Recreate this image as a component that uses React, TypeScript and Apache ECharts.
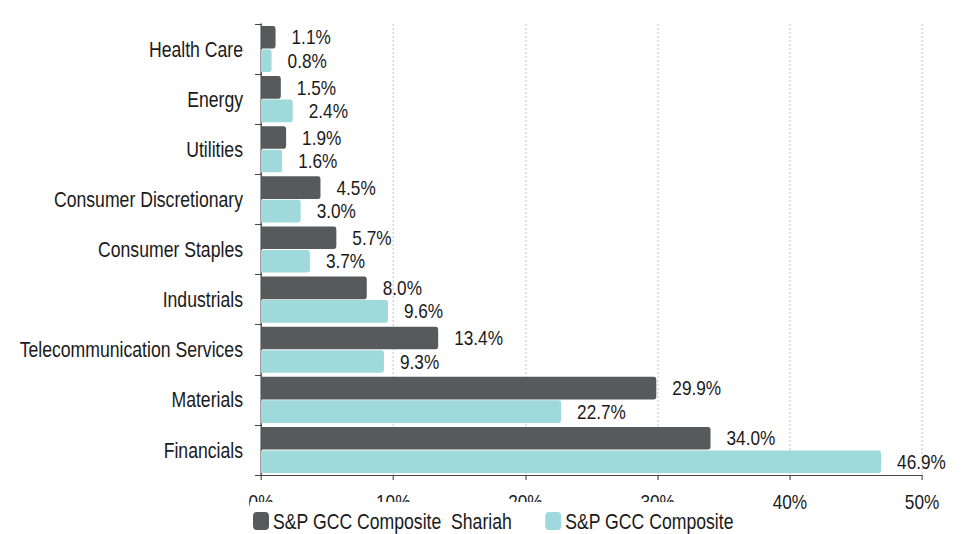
import React, { useEffect, useRef } from "react";
import * as echarts from "echarts";

const categories = [
  "Health Care",
  "Energy",
  "Utilities",
  "Consumer Discretionary",
  "Consumer Staples",
  "Industrials",
  "Telecommunication Services",
  "Materials",
  "Financials",
];
const shariahValues = [1.1, 1.5, 1.9, 4.5, 5.7, 8.0, 13.4, 29.9, 34.0];
const compositeValues = [0.8, 2.4, 1.6, 3.0, 3.7, 9.6, 9.3, 22.7, 46.9];
const seriesNames = ["S&P GCC Composite  Shariah", "S&P GCC Composite"];
const xTicks = { min: 0, max: 50, interval: 10 };

// The chart is laid out on a wider canvas and squeezed horizontally,
// which gives the regular sans face a narrow (Arial Narrow-like) look.
const SQUEEZE = 0.82;
const WIDTH = 970;
const HEIGHT = 534;
const CANVAS_W = WIDTH / SQUEEZE;
const px = (v: number) => v / SQUEEZE; // horizontal page pixels -> canvas pixels

const FONT = "'Liberation Sans', Arial, sans-serif";
const INK = "#1a1a1a";

export default function App() {
  const ref = useRef<HTMLDivElement>(null);

  useEffect(() => {
    document.body.style.margin = "0";
    document.body.style.overflow = "hidden";
    if (!ref.current) return;
    const chart = echarts.init(ref.current, null, { renderer: "svg" });
    const label = {
      show: true,
      position: "right",
      distance: px(16),
      color: INK,
      fontFamily: FONT,
      fontSize: 21,
      formatter: (p: any) => p.value.toFixed(1) + "%",
    };
    chart.setOption({
      animation: false,
      textStyle: { fontFamily: FONT },
      grid: { left: px(261), right: px(48), top: 24, bottom: 59 },
      xAxis: {
        type: "value",
        ...xTicks,
        axisLine: { show: true, lineStyle: { color: "#333", width: 1 } },
        axisTick: { show: true, length: 5, lineStyle: { color: "#333", width: px(1) } },
        axisLabel: {
          formatter: "{value}%",
          color: INK,
          fontSize: 21,
          fontFamily: FONT,
          margin: 16,
        },
        splitLine: {
          show: true,
          lineStyle: { color: "#c4c4c4", type: [2, 2], width: px(1) },
        },
      },
      yAxis: {
        type: "category",
        data: categories,
        inverse: true,
        axisLine: { show: true, lineStyle: { color: "#333", width: px(1.2) } },
        axisTick: { show: true, length: px(6), lineStyle: { color: "#333" } },
        axisLabel: {
          color: INK,
          fontSize: 21.5,
          fontFamily: FONT,
          margin: px(18),
        },
      },
      legend: {
        left: px(250),
        top: 502,
        padding: [8, px(4), 4, px(3)],
        backgroundColor: "#fff",
        itemWidth: px(16),
        itemHeight: 18,
        itemGap: px(33),
        icon: "roundRect",
        textStyle: { color: INK, fontSize: 21.5, fontFamily: FONT },
        data: seriesNames,
      },
      series: [
        {
          name: seriesNames[0],
          type: "bar",
          data: shariahValues,
          barGap: "4%",
          barCategoryGap: "8%",
          itemStyle: { color: "#58595b", borderRadius: [0, 3, 3, 0] },
          label,
        },
        {
          name: seriesNames[1],
          type: "bar",
          data: compositeValues,
          barGap: "4%",
          barCategoryGap: "8%",
          itemStyle: { color: "#9fd9dc", borderRadius: [0, 3, 3, 0] },
          label,
        },
      ],
    });
    return () => chart.dispose();
  }, []);

  return (
    <div style={{ width: WIDTH, height: HEIGHT, overflow: "hidden" }}>
      <div
        ref={ref}
        style={{
          width: CANVAS_W,
          height: HEIGHT,
          transform: `scaleX(${SQUEEZE})`,
          transformOrigin: "0 0",
        }}
      />
    </div>
  );
}
